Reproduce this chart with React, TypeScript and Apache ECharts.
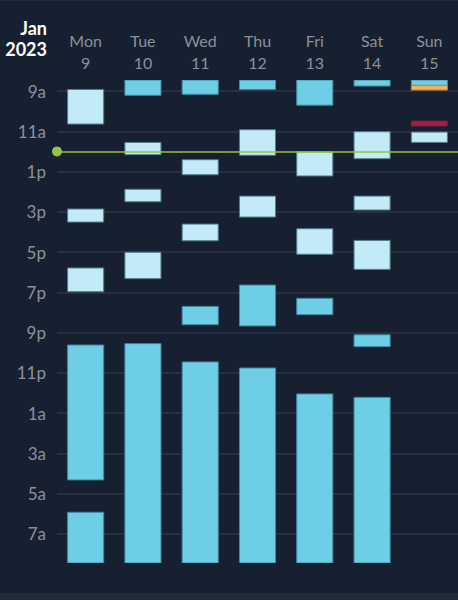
import React, { useEffect, useRef } from "react";
import * as echarts from "echarts";

const days = ["Mon", "Tue", "Wed", "Thu", "Fri", "Sat", "Sun"];
const dates = ["9", "10", "11", "12", "13", "14", "15"];
const hourTicks = [9, 11, 13, 15, 17, 19, 21, 23, 25, 27, 29, 31];
const hourLabels = ["9a", "11a", "1p", "3p", "5p", "7p", "9p", "11p", "1a", "3a", "5a", "7a"];
const viewStart = 8.45;
const viewEnd = 32.45;
const nowHour = 12;

// [dayIndex, startHour, endHour] (hours past midnight of that day)
const sleepBlocks: number[][] = [
  [1, 8.45, 9.21], [2, 8.45, 9.16], [3, 8.45, 8.92], [4, 8.45, 9.7], [5, 8.45, 8.75], [6, 8.45, 8.72],
  [3, 18.64, 20.67], [4, 19.3, 20.11], [2, 19.7, 20.61], [5, 21.11, 21.7],
  [0, 21.62, 28.32], [0, 29.93, 32.45], [1, 21.55, 32.45], [2, 22.46, 32.45],
  [3, 22.76, 32.45], [4, 24.05, 32.45], [5, 24.22, 32.45],
];
const activityBlocks: number[][] = [
  [0, 8.92, 10.64], [6, 11.04, 11.55], [1, 11.55, 12.16], [3, 10.92, 12.19], [5, 11.02, 12.36],
  [4, 12.02, 13.22], [2, 12.41, 13.16], [0, 14.86, 15.51], [1, 13.88, 14.5], [3, 14.22, 15.26],
  [5, 14.22, 14.91], [2, 15.61, 16.44], [4, 15.84, 17.11], [5, 16.42, 17.86], [1, 17.01, 18.32],
  [0, 17.79, 18.97],
];
const orangeBlocks: number[][] = [[6, 8.72, 8.95]];
const crimsonBlocks: number[][] = [[6, 10.49, 10.74]];

const FONT = "Lato, 'Noto Sans', sans-serif";

function blockSeries(name: string, data: number[][], fill: string, stroke: string) {
  return {
    name,
    type: "custom",
    clip: true,
    data,
    encode: { x: 0, y: [1, 2] },
    renderItem: (params: any, api: any) => {
      const x = api.value(0);
      const p1 = api.coord([x, api.value(1)]);
      const p2 = api.coord([x, api.value(2)]);
      const w = api.size([1, 0])[0] * 0.63;
      return {
        type: "rect",
        shape: { x: p1[0] - w / 2, y: p1[1], width: w, height: p2[1] - p1[1] },
        style: { fill, stroke, lineWidth: 1 },
      };
    },
  };
}

export default function App() {
  const ref = useRef<HTMLDivElement>(null);
  useEffect(() => {
    document.body.style.margin = "0";
    const chart = echarts.init(ref.current!, null, { renderer: "svg" });
    chart.setOption({
      animation: false,
      backgroundColor: "#172031",
      grid: { left: 57, right: 0, top: 80, height: 483 },
      xAxis: {
        type: "category",
        position: "top",
        data: days.map((d, i) => `${d}\n${dates[i]}`),
        axisLine: { show: false },
        axisTick: { show: false },
        splitLine: { show: false },
        axisLabel: {
          color: "#8b919b",
          fontFamily: FONT,
          fontSize: 16,
          lineHeight: 22,
          margin: 7,
        },
      },
      yAxis: {
        type: "value",
        inverse: true,
        min: viewStart,
        max: viewEnd,
        axisLine: { show: false },
        axisTick: { show: false, customValues: hourTicks },
        axisLabel: {
          customValues: hourTicks,
          color: "#8b919b",
          fontFamily: FONT,
          fontSize: 17,
          margin: 11,
          formatter: (v: number) => hourLabels[hourTicks.indexOf(Math.round(v))] ?? "",
        },
        splitLine: { show: true, lineStyle: { color: "#263042", width: 2 } },
      },
      graphic: [
        {
          type: "text",
          x: 47,
          y: 17,
          style: {
            text: "Jan\n2023",
            fill: "#ffffff",
            font: `bold 18px ${FONT}`,
            lineHeight: 21,
            align: "right",
            verticalAlign: "top",
          },
        },
        { type: "rect", left: 0, bottom: 0, shape: { width: 458, height: 7 }, style: { fill: "#222b3a" } },
        { type: "rect", left: 0, top: 0, shape: { width: 458, height: 1 }, style: { fill: "#222b3a" } },
      ],
      series: [
        blockSeries("sleep", sleepBlocks, "#6dcee5", "#3f8aa2"),
        blockSeries("activity", activityBlocks, "#c0ebf7", "#52798b"),
        blockSeries("orange", orangeBlocks, "#f2b457", "#b9873e"),
        blockSeries("crimson", crimsonBlocks, "#9b2549", "#7a1c39"),
        {
          name: "now",
          type: "line",
          data: [],
          markLine: {
            silent: true,
            symbol: ["circle", "none"],
            symbolSize: 10,
            label: { show: false },
            lineStyle: { color: "#94c24a", width: 1.5, type: "solid" },
            data: [{ yAxis: nowHour }],
          },
        },
      ],
    });
    return () => chart.dispose();
  }, []);
  return <div ref={ref} style={{ width: 458, height: 600 }} />;
}
